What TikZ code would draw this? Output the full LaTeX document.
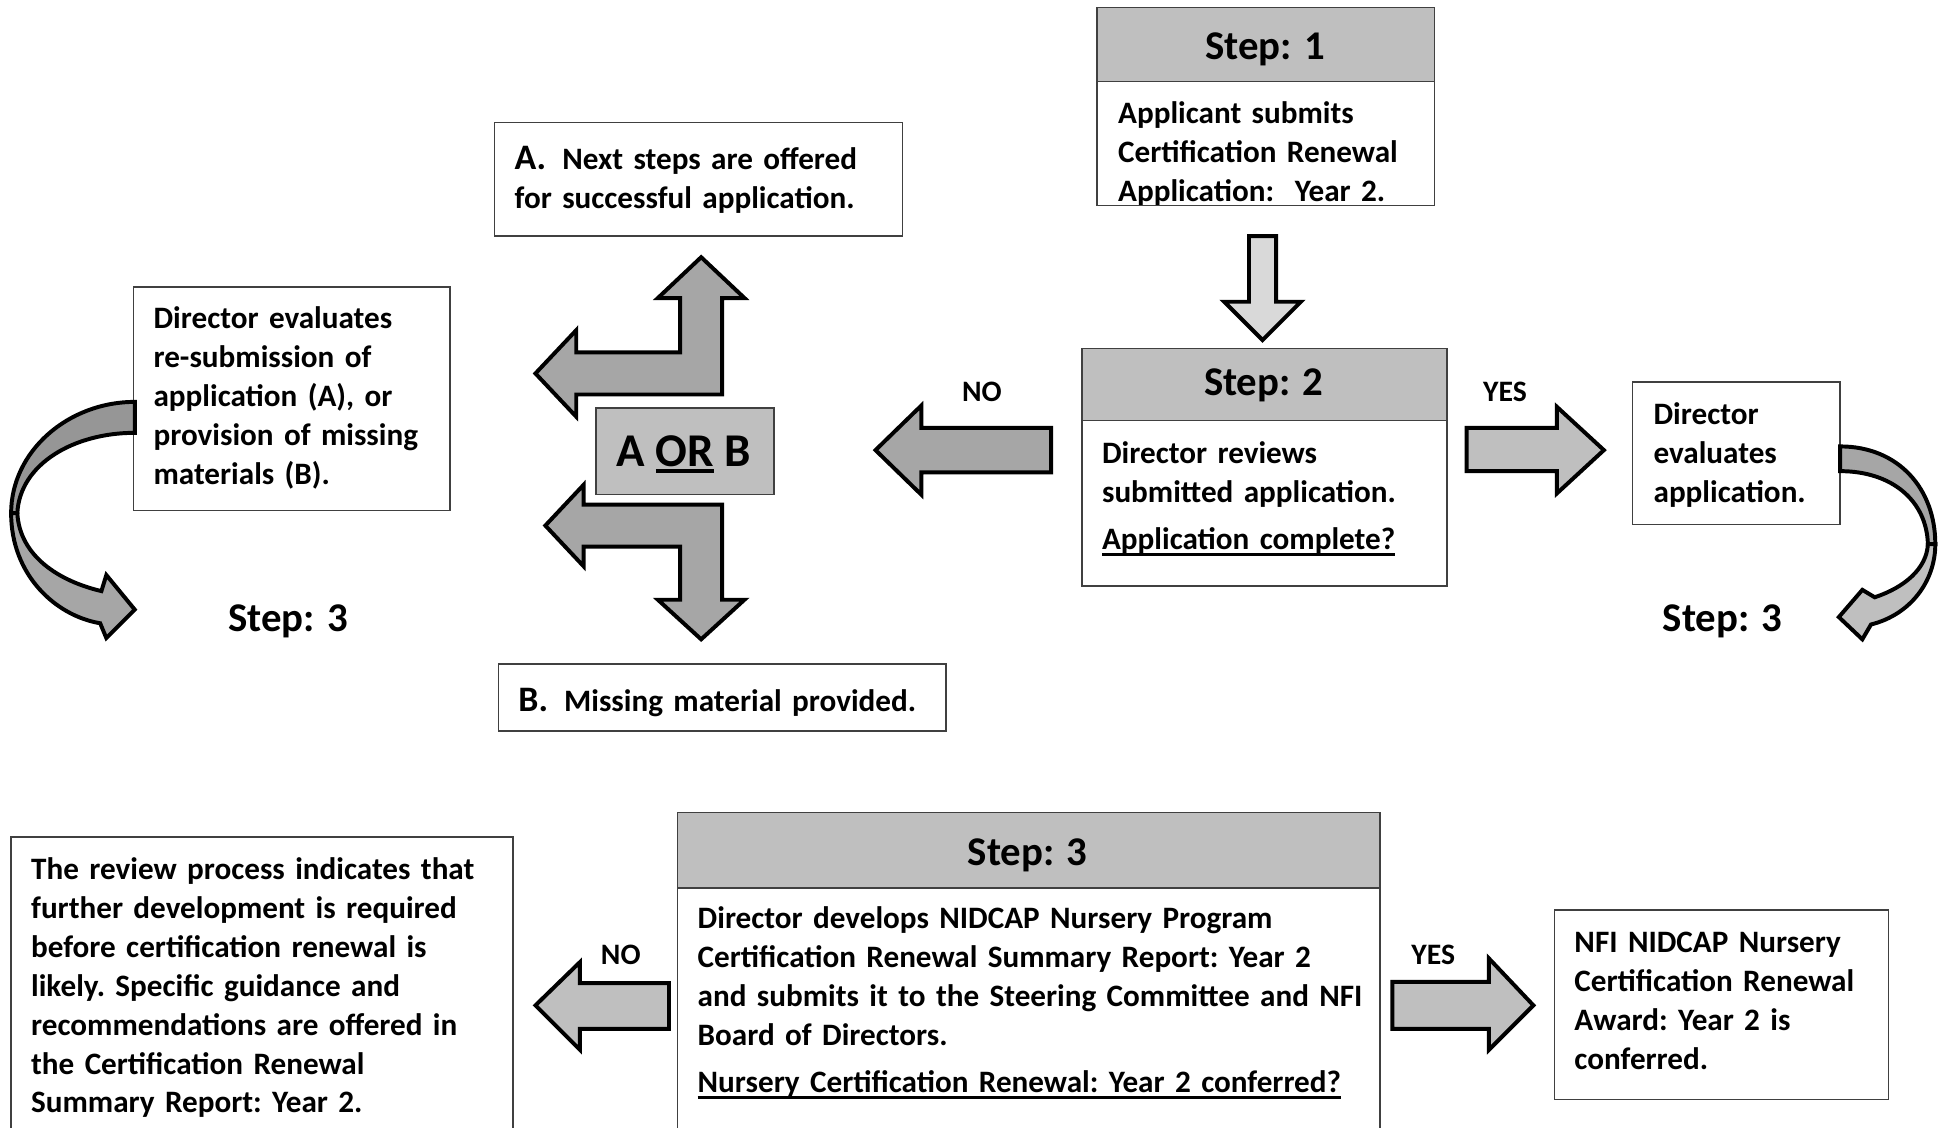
\documentclass[tikz,border=0pt]{standalone}
\usepackage{fontspec}
\setmainfont{Carlito}
\usetikzlibrary{fit}
\definecolor{hdrgray}{HTML}{BFBFBF}
\definecolor{arrdark}{HTML}{A6A6A6}
\definecolor{arrlight}{HTML}{BFBFBF}
\definecolor{arrpale}{HTML}{D9D9D9}
\definecolor{curvedark}{HTML}{969696}
\definecolor{boxline}{HTML}{404040}
\newcommand\bodyfont{\fontsize{25.2}{31.5}\selectfont\bfseries\frenchspacing}
\newcommand\headfont{\fontsize{33}{40}\selectfont\bfseries}
\newcommand\aobfont{\fontsize{38}{44}\selectfont\bfseries}
\newcommand\lblfont{\fontsize{24}{30}\selectfont\bfseries}
\newcommand\letfont{\fontsize{29}{31.5}\selectfont\bfseries}
\newsavebox\ulbox
\newcommand\ulx[1]{\leavevmode\sbox\ulbox{#1}\rlap{\rule[-5.5pt]{\wd\ulbox}{2.9pt}}\usebox\ulbox}
\tikzset{
  box/.style={draw=boxline, line width=1.2pt, fill=white, inner sep=0pt},
  hdr/.style={box, fill=hdrgray},
  blk/.style={draw=black, line width=3.2pt, line join=miter},
  txt/.style={anchor=base west, align=left, inner sep=0pt, text width=620pt, font=\bodyfont},
  lbl/.style={anchor=base, inner sep=0pt, font=\lblfont},
  headtxt/.style={anchor=base, inner sep=0pt, font=\headfont},
}
\begin{document}
\begin{tikzpicture}[x=1pt,y=-1pt]
\useasboundingbox (0,0) rectangle (1568,912);
\clip (0,0) rectangle (1568,912);
\fill[white] (0,0) rectangle (1568,912);

% ---------- boxes ----------
\node[hdr, fit={(887,6) (1160,66)}] (s1h) {};
\node[box, fit={(887,66) (1160,166)}] (s1b) {};
\node[hdr, fit={(875,282) (1170,340)}] (s2h) {};
\node[box, fit={(875,340) (1170,474)}] (s2b) {};
\node[box, fit={(400,99) (730,191)}] (abox) {};
\node[box, fit={(403,537) (765,591)}] (bbox) {};
\node[box, fit={(108,232) (364,413)}] (lbox) {};
\node[box, fit={(1320,309) (1488,424)}] (ebox) {};
\node[hdr, fit={(482,330) (626,400)}] (aob) {};
\node[hdr, fit={(548,657) (1116,718)}] (s3h) {};
\node[box, fit={(548,718) (1116,940)}] (s3b) {};
\node[box, fit={(9,677) (415,940)}] (blbox) {};
\node[box, fit={(1257,736) (1527,889)}] (brbox) {};

% ---------- block arrows ----------
% Step 1 -> Step 2
\draw[blk, fill=arrpale] (1010,191) -- (1032,191) -- (1032,244) -- (1052,244) -- (1021,275) -- (990,244) -- (1010,244) -- cycle;
% Step 2 NO
\draw[blk, fill=arrdark] (850,346) -- (745,346) -- (745,328) -- (708,364) -- (745,400) -- (745,382) -- (850,382) -- cycle;
% Step 2 YES
\draw[blk, fill=arrlight] (1186,346) -- (1259,346) -- (1259,329) -- (1297,364) -- (1259,399) -- (1259,381) -- (1186,381) -- cycle;
% upper bent arrow (left / up)
\draw[blk, fill=arrdark] (433,302) -- (466,267) -- (466,285) -- (550,285) -- (550,241) -- (532,241) -- (567,208) -- (602,241) -- (584,241) -- (584,319) -- (466,319) -- (466,337) -- cycle;
% lower bent arrow (left / down)
\draw[blk, fill=arrdark] (441,425) -- (472,392) -- (472,408) -- (584,408) -- (584,485) -- (602,485) -- (567,517) -- (532,485) -- (550,485) -- (550,442) -- (472,442) -- (472,458) -- cycle;
% Step 3 NO
\draw[blk, fill=arrlight] (541,795) -- (469,795) -- (469,778) -- (433,813) -- (469,849) -- (469,832) -- (541,832) -- cycle;
% Step 3 YES
\draw[blk, fill=arrlight] (1126,794) -- (1204,794) -- (1204,775) -- (1240,813) -- (1204,849) -- (1204,832) -- (1126,832) -- cycle;

% ---------- curved arrows ----------
% right
\draw[blk, fill=arrdark] (1488,361) .. controls (1535,361) and (1565,395) .. (1565,440) -- (1559,440) .. controls (1558,405) and (1530,381) .. (1488,381) -- cycle;
\draw[blk, fill=arrlight] (1565,440) .. controls (1565,470) and (1545,497) .. (1513,505) -- (1506,517) -- (1487,499) -- (1506,477) -- (1516,483) .. controls (1540,475) and (1558,460) .. (1559,440) -- cycle;
% left
\draw[blk, fill=curvedark] (109,325) .. controls (55,325) and (9,365) .. (9,415) -- (14,415) .. controls (16,375) and (60,350) .. (109,350) -- cycle;
\draw[blk, fill=arrdark] (9,415) .. controls (9,465) and (45,498) .. (81,504) -- (86,516) -- (109,493) -- (86,465) -- (82,478) .. controls (48,470) and (16,450) .. (14,415) -- cycle;

% ---------- texts ----------
\node[headtxt] (s1l) at (1023,48) {Step: 1};
\begin{scope}
\clip (887,66) rectangle (1160,165);
\node[txt] (s1t) at (904,100) {Applicant submits\\Certification Renewal\\Application:\ \ Year 2.};
\end{scope}
\node[headtxt] (s2l) at (1022,320) {Step: 2};
\node[txt] (s2t) at (891,375) {Director reviews\\submitted application.\\[6.5pt]\ulx{Application complete?}};
\node[lbl] (no1) at (794,325) {NO};
\node[lbl] (yes1) at (1217,325) {YES};
\node[txt] (at) at (416,137) {{\letfont A.}\hspace{13pt}Next steps are offered\\for successful application.};
\node[txt] (bt) at (419,575) {{\letfont B.}\hspace{13pt}Missing material provided.};
\node[anchor=base, inner sep=0pt, font=\aobfont] (aobt) at (553,377) {A \ulx{OR} B};
\node[txt] (lt) at (124,266) {Director evaluates\\re-submission of\\application (A), or\\provision of missing\\materials (B).};
\node[txt] (et) at (1337,343) {Director\\evaluates\\application.};
\node[headtxt] (st3l) at (233,511) {Step: 3};
\node[headtxt] (st3r) at (1393,511) {Step: 3};
\node[headtxt] (s3l) at (831,700) {Step: 3};
\node[txt] (s3t) at (564,751) {Director develops NIDCAP Nursery Program\\Certification Renewal Summary Report: Year 2\\and submits it to the Steering Committee and NFI\\Board of Directors.\\[6.5pt]\ulx{Nursery Certification Renewal: Year 2 conferred?}};
\node[lbl] (no2) at (502,780) {NO};
\node[lbl] (yes2) at (1159,780) {YES};
\node[txt] (blt) at (25,711) {The review process indicates that\\further development is required\\before certification renewal is\\likely. Specific guidance and\\recommendations are offered in\\the Certification Renewal\\Summary Report: Year 2.};
\node[txt] (brt) at (1273,770) {NFI NIDCAP Nursery\\Certification Renewal\\Award: Year 2 is\\conferred.};
\end{tikzpicture}
\end{document}
